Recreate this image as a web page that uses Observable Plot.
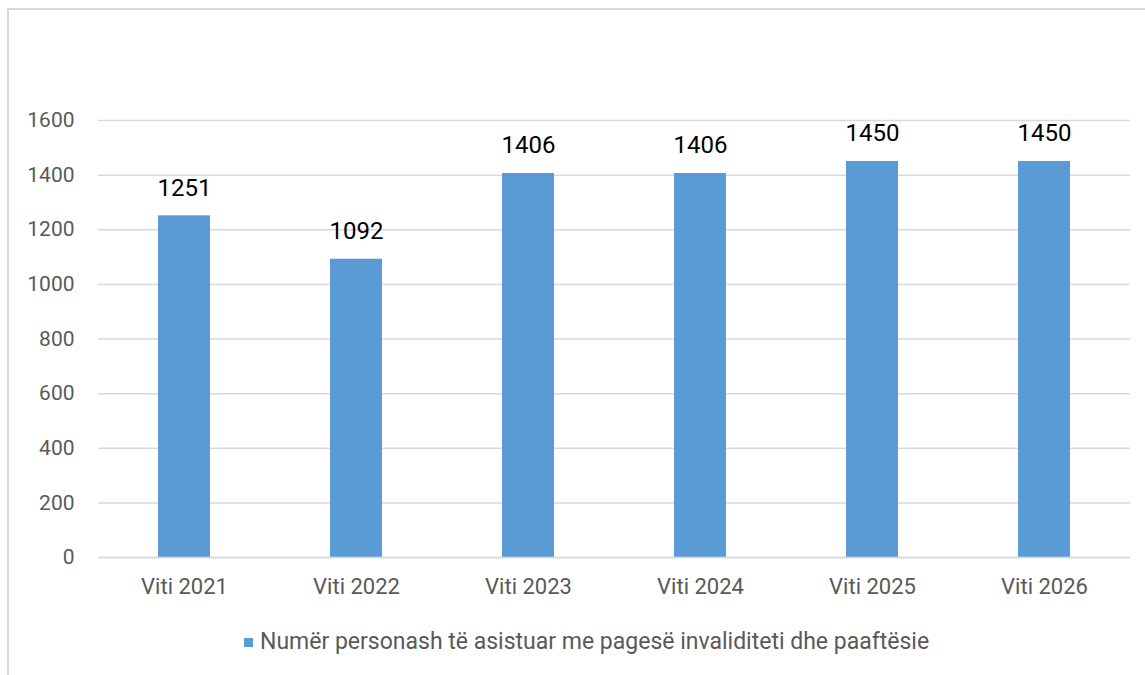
<!DOCTYPE html>
<html>
<head>
<meta charset="utf-8">
<script src="https://cdn.jsdelivr.net/npm/d3@7"></script>
<script src="https://cdn.jsdelivr.net/npm/@observablehq/plot@0.6"></script>
<style>
  html, body { margin: 0; padding: 0; background: #fff; }
  body { width: 1145px; height: 675px; position: relative; overflow: hidden; font-family: Roboto, "Noto Sans", sans-serif; }
  #frame { position: absolute; left: 7px; top: 8px; width: 1200px; height: 700px; border-left: 2px solid #d9d9d9; border-top: 2px solid #d9d9d9; }
  #chart { position: absolute; left: 0; top: 0; }
  #legend { position: absolute; left: 244px; top: 628px; font-size: 23px; line-height: 28px; color: #595959; display: flex; align-items: center; white-space: nowrap; }
  #legend .sw { width: 9px; height: 9px; background: #5b9bd5; margin-right: 7px; }
</style>
</head>
<body>
<div id="frame"></div>
<div id="chart"></div>
<div id="legend"><span class="sw"></span><span id="legend-text"></span></div>
<script>
const categories = ["Viti 2021", "Viti 2022", "Viti 2023", "Viti 2024", "Viti 2025", "Viti 2026"];
const values = [1251, 1092, 1406, 1406, 1450, 1450];
const yTicks = [0, 200, 400, 600, 800, 1000, 1200, 1400, 1600];
const seriesName = "Numër personash të asistuar me pagesë invaliditeti dhe paaftësie";

const data = categories.map((c, i) => ({ cat: c, value: values[i] }));

const chart = Plot.plot({
  width: 1145,
  height: 610,
  marginLeft: 98,
  marginRight: 15,
  marginTop: 120,
  marginBottom: 53,
  style: { fontFamily: "Roboto, 'Noto Sans', sans-serif", background: "transparent", overflow: "visible" },
  x: { domain: categories, paddingInner: 0.698, paddingOuter: 0.349, label: null },
  y: { domain: [0, 1600], label: null },
  marks: [
    Plot.gridY(yTicks, { stroke: "#d9d9d9", strokeOpacity: 1, strokeWidth: 1.5 }),
    Plot.barY(data, { x: "cat", y: "value", fill: "#5b9bd5" }),
    Plot.ruleY([0], { stroke: "#d9d9d9", strokeWidth: 1.5 }),
    Plot.text(data, { x: "cat", y: "value", text: d => String(d.value), dy: -28, fontSize: 24, fill: "#000" }),
    Plot.axisY(yTicks, { tickSize: 0, tickPadding: 24, fontSize: 21, fill: "#595959", tickFormat: d => String(d) }),
    Plot.axisX({ tickSize: 0, tickPadding: 21, fontSize: 22, fill: "#595959" })
  ]
});
document.getElementById("chart").appendChild(chart);
document.getElementById("legend-text").textContent = seriesName;
</script>
</body>
</html>
